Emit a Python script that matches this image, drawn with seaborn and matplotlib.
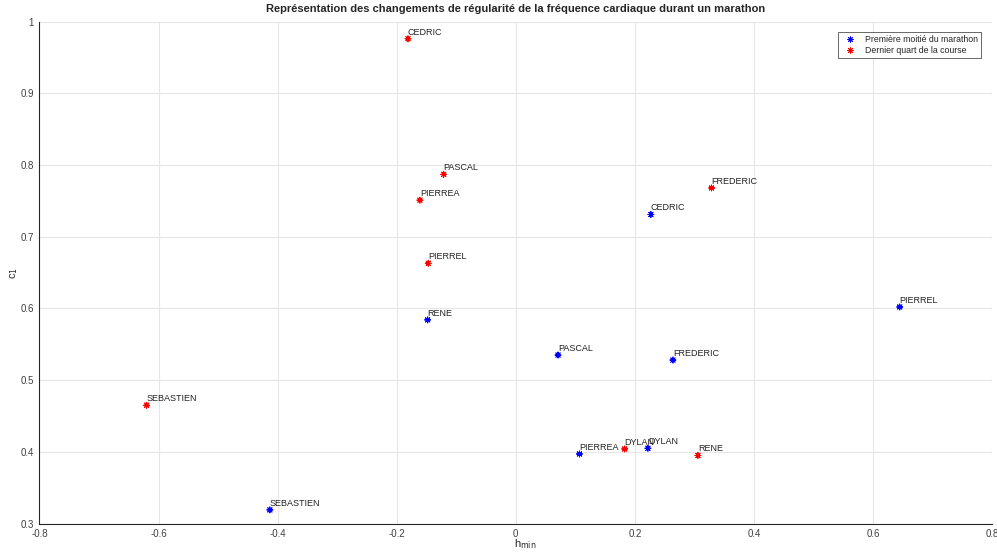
import matplotlib
matplotlib.use("Agg")
import matplotlib.pyplot as plt
import pandas as pd
import seaborn as sns

# first half of the marathon (blue)
names_first = ["CEDRIC", "PIERREL", "RENE", "PASCAL", "FREDERIC", "PIERREA", "DYLAN", "SEBASTIEN"]
hmin_first = [0.227, 0.645, -0.148, 0.071, 0.264, 0.107, 0.222, -0.413]
c1_first = [0.731, 0.602, 0.584, 0.535, 0.528, 0.397, 0.405, 0.319]

# last quarter of the race (red)
names_last = ["CEDRIC", "PASCAL", "PIERREA", "PIERREL", "FREDERIC", "SEBASTIEN", "DYLAN", "RENE"]
hmin_last = [-0.181, -0.121, -0.161, -0.147, 0.329, -0.620, 0.183, 0.306]
c1_last = [0.976, 0.787, 0.751, 0.663, 0.768, 0.465, 0.404, 0.395]

label_first = "Première moitié du marathon"
label_last = "Dernier quart de la course"

df = pd.concat([
    pd.DataFrame({"name": names_first, "hmin": hmin_first, "c1": c1_first, "phase": label_first}),
    pd.DataFrame({"name": names_last, "hmin": hmin_last, "c1": c1_last, "phase": label_last}),
], ignore_index=True)

sns.set_style("white")
plt.rcParams["font.family"] = ["Liberation Sans", "DejaVu Sans"]

fig = plt.figure(figsize=(9.97, 5.54), dpi=100)
ax = fig.add_axes([0.0396, 0.055, 0.9554, 0.906])

sns.scatterplot(data=df, x="hmin", y="c1", hue="phase",
                palette={label_first: "#0000ff", label_last: "#ff0000"},
                marker=(8, 2, 0), s=18, linewidth=0.7, ax=ax, zorder=3)

for _, row in df.iterrows():
    ax.annotate(row["name"], (row["hmin"], row["c1"]), xytext=(0, 1.5),
                textcoords="offset points", fontsize=6.5, color="#222222",
                ha="left", va="bottom")

ax.set_xlim(-0.8, 0.8)
ax.set_ylim(0.3, 1.0)
ax.set_xticks([-0.8, -0.6, -0.4, -0.2, 0, 0.2, 0.4, 0.6, 0.8])
ax.set_xticklabels(["-0.8", "-0.6", "-0.4", "-0.2", "0", "0.2", "0.4", "0.6", "0.8"])
ax.set_yticks([0.3, 0.4, 0.5, 0.6, 0.7, 0.8, 0.9, 1.0])
ax.set_yticklabels(["0.3", "0.4", "0.5", "0.6", "0.7", "0.8", "0.9", "1"])
ax.grid(True, color="#e6e6e6", linewidth=0.8, zorder=0)
ax.set_axisbelow(True)
for side in ["top", "right"]:
    ax.spines[side].set_visible(False)
for side in ["left", "bottom"]:
    ax.spines[side].set_color("#262626")
    ax.spines[side].set_linewidth(0.8)
ax.tick_params(direction="in", length=7, width=0.8, color="#262626",
               labelsize=7, labelcolor="#404040", pad=4)

ax.set_xlabel("h$_{\\mathrm{min}}$", fontsize=8, color="#262626", va="top")
ax.xaxis.set_label_coords(0.5095, -0.028)
ax.set_ylabel("c$_{1}$", fontsize=8, color="#262626")
ax.yaxis.set_label_coords(-0.02, 0.5)
ax.set_title("Représentation des changements de régularité de la fréquence cardiaque durant un marathon",
             fontsize=8, fontweight="bold", pad=7)

leg = ax.legend(loc="upper right", fontsize=6.3, frameon=True, fancybox=False,
                edgecolor="#262626", borderpad=0.3, handletextpad=0.8,
                labelspacing=0.3, handlelength=2.0,
                bbox_to_anchor=(0.993, 0.988))
leg.get_frame().set_linewidth(0.6)

fig.savefig("out.png", dpi=100)
